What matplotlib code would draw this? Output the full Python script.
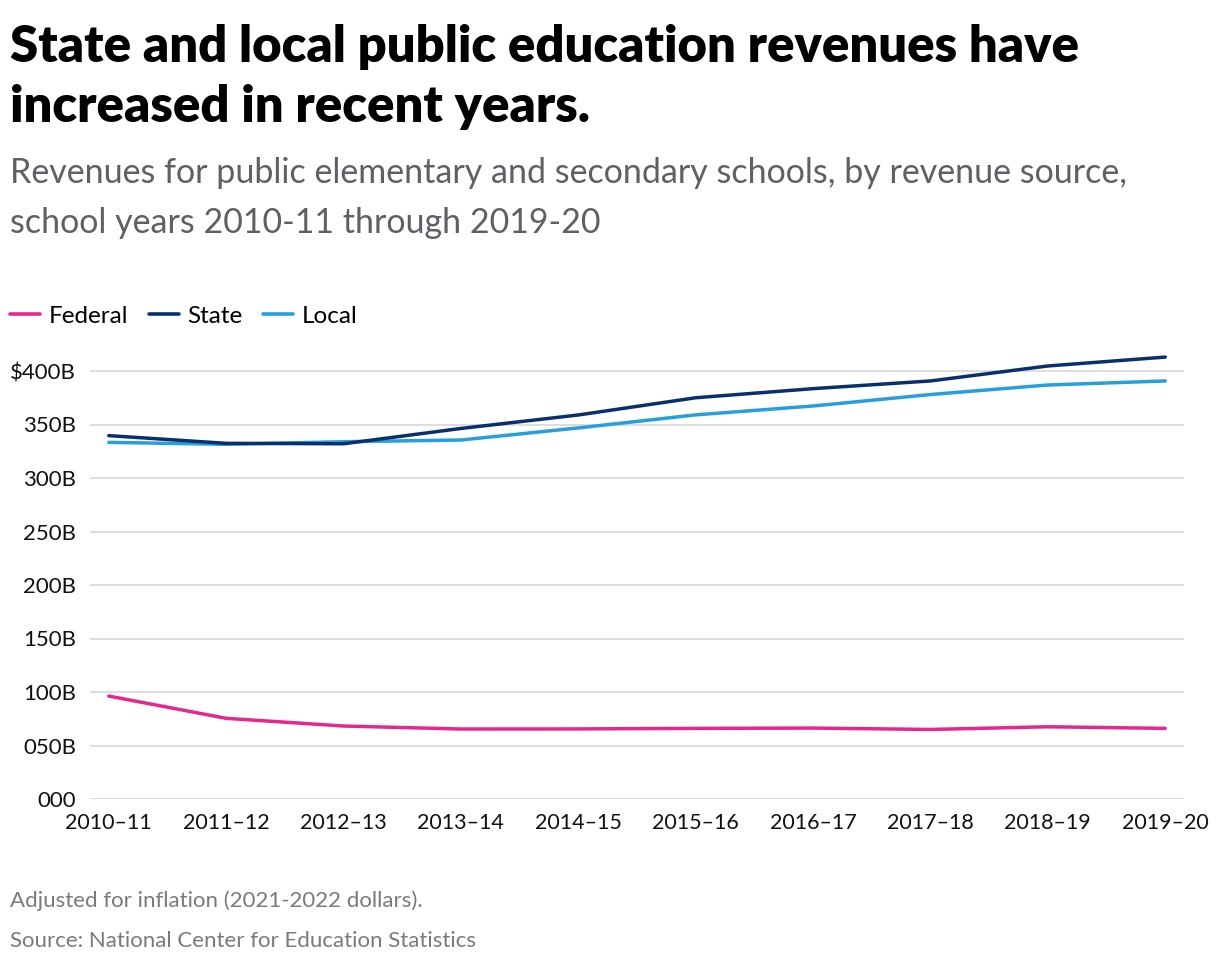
import matplotlib
matplotlib.use("Agg")
import matplotlib.pyplot as plt
from matplotlib.lines import Line2D

years = ["2010–11", "2011–12", "2012–13", "2013–14", "2014–15",
         "2015–16", "2016–17", "2017–18", "2018–19", "2019–20"]
federal = [96.2, 75.4, 68.2, 65.4, 65.5, 66.0, 66.3, 65.0, 67.5, 66.0]
state = [339.6, 332.4, 332.0, 346.3, 358.9, 375.0, 383.5, 390.7, 404.7, 413.0]
local = [333.3, 331.5, 333.9, 335.5, 346.8, 359.0, 367.3, 378.0, 386.9, 390.7]
yticks = [0, 50, 100, 150, 200, 250, 300, 350, 400]
ytick_labels = ["000", "050B", "100B", "150B", "200B", "250B", "300B", "350B", "$400B"]

C_FED = "#e5288f"
C_STATE = "#0a2f6e"
C_LOCAL = "#269fdd"

W, H = 1220, 966
plt.rcParams['font.family'] = ['Lato', 'DejaVu Sans']
fig = plt.figure(figsize=(W / 100, H / 100), dpi=100)

def fx(x):
    return x / W

def fy(y):
    return 1 - y / H

# axes
y0_px, ytop_val = 799, 415
px_per = 1.07
ytop_px = y0_px - ytop_val * px_per
ax = fig.add_axes([fx(90), fy(y0_px), fx(1184) - fx(90), (y0_px - ytop_px) / H])
xs = list(range(len(years)))
ax.set_xlim(-0.16, len(years) - 1 + 0.16)
ax.set_ylim(0, ytop_val)
for vals, c in [(federal, C_FED), (local, C_LOCAL), (state, C_STATE)]:
    ax.plot(xs, vals, color=c, lw=2.5, solid_capstyle='round', clip_on=False, zorder=3)
ax.set_yticks(yticks)
ax.set_yticklabels(ytick_labels)
ax.set_xticks(xs)
ax.set_xticklabels(years)
ax.tick_params(axis='both', length=0, colors='#111111')
ax.tick_params(axis='y', pad=10, labelsize=16)
ax.tick_params(axis='x', pad=10, labelsize=15.5)
ax.grid(axis='y', color='#dddddd', lw=1.4)
ax.set_axisbelow(True)
for s in ax.spines.values():
    s.set_visible(False)

# title and subtitle
fig.text(fx(10), fy(62), "State and local public education revenues have",
         fontsize=36.6, fontweight='heavy', color='#000000', va='baseline')
fig.text(fx(10), fy(122), "increased in recent years.",
         fontsize=36.6, fontweight='heavy', color='#000000', va='baseline')
fig.text(fx(10), fy(183), "Revenues for public elementary and secondary schools, by revenue source,",
         fontsize=24.5, color='#5f5f66', va='baseline')
fig.text(fx(10), fy(233), "school years 2010-11 through 2019-20",
         fontsize=24.5, color='#5f5f66', va='baseline')

# legend
handles = [Line2D([], [], color=C_FED, lw=2.6, solid_capstyle='round'),
           Line2D([], [], color=C_STATE, lw=2.6, solid_capstyle='round'),
           Line2D([], [], color=C_LOCAL, lw=2.6, solid_capstyle='round')]
fig.legend(handles, ["Federal", "State", "Local"], loc='center left',
           bbox_to_anchor=(fx(10), fy(316)), ncol=3, frameon=False, fontsize=17.5,
           handlelength=1.25, handletextpad=0.33, columnspacing=0.85,
           borderpad=0, borderaxespad=0)

# footer
fig.text(fx(10), fy(907), "Adjusted for inflation (2021-2022 dollars).",
         fontsize=16, color='#7a7a7a', va='baseline')
fig.text(fx(10), fy(947), "Source: National Center for Education Statistics",
         fontsize=16, color='#7a7a7a', va='baseline')

fig.savefig("out.png", dpi=100, facecolor='white')
